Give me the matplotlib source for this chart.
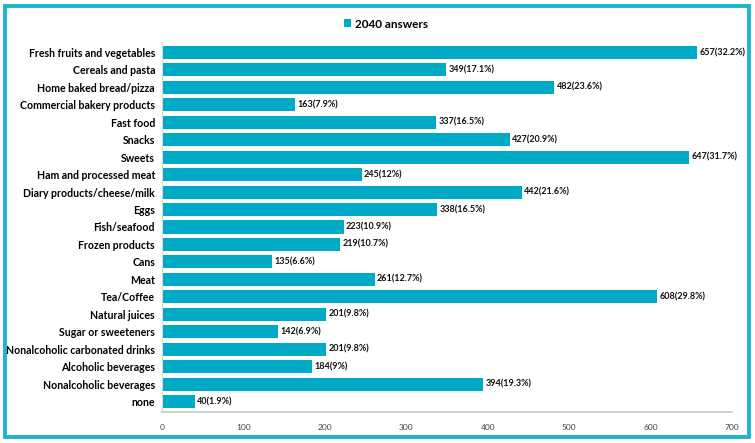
import matplotlib.pyplot as plt
from matplotlib.patches import Rectangle

categories = ['Fresh fruits and vegetables', 'Cereals and pasta', 'Home baked bread/pizza',
              'Commercial bakery products', 'Fast food', 'Snacks', 'Sweets',
              'Ham and processed meat', 'Diary products/cheese/milk', 'Eggs', 'Fish/seafood',
              'Frozen products', 'Cans', 'Meat', 'Tea/Coffee', 'Natural juices',
              'Sugar or sweeteners', 'Nonalcoholic carbonated drinks', 'Alcoholic beverages',
              'Nonalcoholic beverages', 'none']
counts = [657, 349, 482, 163, 337, 427, 647, 245, 442, 338, 223, 219, 135, 261, 608,
          201, 142, 201, 184, 394, 40]
pcts = ['32.2%', '17.1%', '23.6%', '7.9%', '16.5%', '20.9%', '31.7%', '12%', '21.6%',
        '16.5%', '10.9%', '10.7%', '6.6%', '12.7%', '29.8%', '9.8%', '6.9%', '9.8%',
        '9%', '19.3%', '1.9%']
xticks = [0, 100, 200, 300, 400, 500, 600, 700]

bar_color = '#00A9C6'
plt.rcParams['font.family'] = ['Lato', 'DejaVu Sans']

fig = plt.figure(figsize=(7.55, 4.43), dpi=100)
ax = fig.add_axes([162 / 755, 1 - 412 / 443, (732 - 162) / 755, 370 / 443])

ypos = list(range(len(categories)))
ax.barh(ypos, counts, height=0.75, color=bar_color, label='2040 answers')
for y, c, p in zip(ypos, counts, pcts):
    ax.text(c + 3, y, '%d(%s)' % (c, p), va='center', ha='left',
            fontsize=6.5, fontweight='bold', color='#111111')

ax.set_ylim(20.6, -0.6)
ax.set_xlim(0, 700)
ax.set_yticks(ypos)
ax.set_yticklabels(categories, fontsize=7.6, fontweight='bold', color='#000000')
ax.set_xticks(xticks)
ax.set_xticklabels([str(t) for t in xticks], fontsize=6, color='#444444')
ax.tick_params(axis='both', length=0)
ax.tick_params(axis='x', pad=9)
ax.tick_params(axis='y', pad=5)
for s in ['top', 'right']:
    ax.spines[s].set_visible(False)
ax.spines['left'].set_color('#d8d8d8')
ax.spines['bottom'].set_color('#c8c8c8')
ax.spines['bottom'].set_linewidth(1.2)

fig.legend(loc='center', bbox_to_anchor=(386 / 755, 1 - 24 / 443), frameon=False,
           prop={'size': 8.5, 'weight': 'bold'}, handlelength=0.65, handleheight=0.65,
           handletextpad=0.35)

fig.patches.append(Rectangle((5 / 755, 6 / 443), 744 / 755, 431 / 443,
                             transform=fig.transFigure, fill=False,
                             edgecolor='#1DB3CF', linewidth=2.8))

fig.savefig('out.png', dpi=100)
